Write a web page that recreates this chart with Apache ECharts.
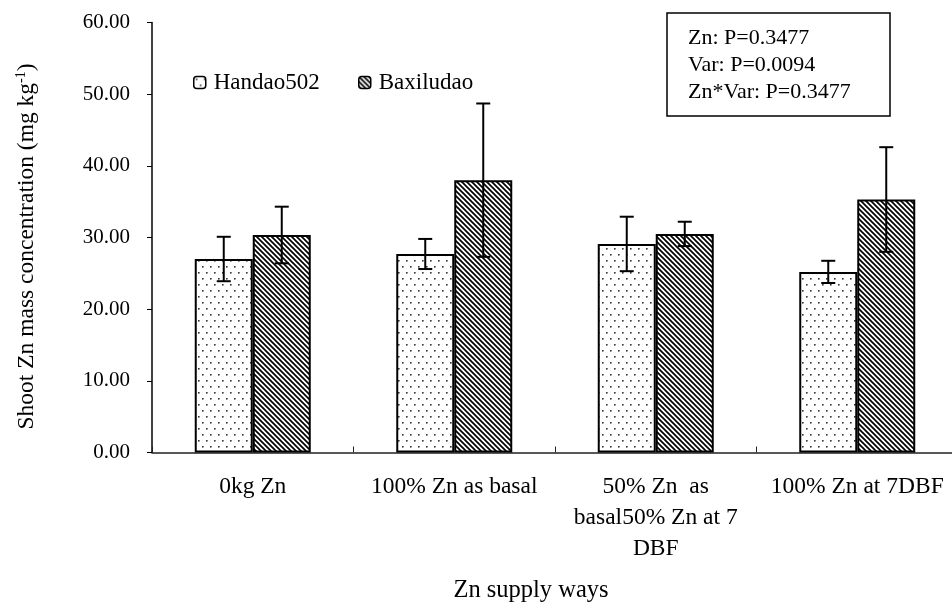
<!DOCTYPE html>
<html><head><meta charset="utf-8">
<script src="https://cdn.jsdelivr.net/npm/echarts@6/dist/echarts.min.js"></script>
<style>html,body{margin:0;padding:0;background:#fff}#c{width:952px;height:603px}</style>
</head><body><div id="c"></div>
<script>
// ---- data ----
const categories = ['0kg Zn', '100% Zn as basal', '50% Zn  as\nbasal50% Zn at 7\nDBF', '100% Zn at 7DBF'];
const seriesNames = ['Handao502', 'Baxiludao'];
const handao = [27.0, 27.7, 29.1, 25.2];
const handaoErr = [3.1, 2.1, 3.8, 1.55];
const baxiludao = [30.35, 38.0, 30.5, 35.3];
const baxiludaoErr = [3.95, 10.7, 1.7, 7.3];
const statLines = ['Zn: P=0.3477', 'Var: P=0.0094', 'Zn*Var: P=0.3477'];
const yMin = 0, yMax = 60, yStep = 10;

// ---- styling ----
const FONT = "'Liberation Serif', 'Times New Roman', serif";
const BAR_W = 58;

function dotPattern() {
  const c = document.createElement('canvas');
  c.width = 8; c.height = 12;
  const g = c.getContext('2d');
  g.fillStyle = '#fff'; g.fillRect(0, 0, 8, 12);
  g.fillStyle = '#333';
  g.fillRect(2, 2, 1.6, 1.6);
  g.fillRect(6, 8, 1.6, 1.6);
  return c;
}
function hatchPattern() {
  const s = 5;
  const c = document.createElement('canvas');
  c.width = s; c.height = s;
  const g = c.getContext('2d');
  g.fillStyle = '#fff'; g.fillRect(0, 0, s, s);
  g.strokeStyle = '#000'; g.lineWidth = 1.7;
  for (let k = -1; k <= 1; k++) {
    g.beginPath();
    g.moveTo(k * s - 1, -1);
    g.lineTo(k * s + s + 1, s + 1);
    g.stroke();
  }
  return c;
}

function errRender(offset) {
  return function (params, api) {
    const i = api.value(0), lo = api.value(1), hi = api.value(2);
    const pHi = api.coord([i, hi]);
    const pLo = api.coord([i, lo]);
    const x = pHi[0] + offset, cap = 7;
    const st = { stroke: '#000', lineWidth: 2 };
    return {
      type: 'group', children: [
        { type: 'line', shape: { x1: x, y1: pHi[1], x2: x, y2: pLo[1] }, style: st },
        { type: 'line', shape: { x1: x - cap, y1: pHi[1], x2: x + cap, y2: pHi[1] }, style: st },
        { type: 'line', shape: { x1: x - cap, y1: pLo[1], x2: x + cap, y2: pLo[1] }, style: st }
      ]
    };
  };
}

const chart = echarts.init(document.getElementById('c'), null, { renderer: 'canvas' });
const legendBase = {
  orient: 'horizontal', padding: 0, itemWidth: 12, itemHeight: 12,
  textStyle: { fontSize: 23, fontFamily: FONT, color: '#000', padding: [0, 0, 0, 3] },
  itemStyle: { borderWidth: 1.5, borderColor: '#000' }
};
chart.setOption({
  animation: false,
  backgroundColor: '#fff',
  grid: { left: 152, top: 22.5, width: 806, height: 430, outerBoundsMode: 'none', containLabel: false },
  legend: [
    Object.assign({}, legendBase, { data: [seriesNames[0]], left: 193, top: 71 }),
    Object.assign({}, legendBase, { data: [seriesNames[1]], left: 358, top: 71 })
  ],
  xAxis: {
    type: 'category', data: categories,
    name: 'Zn supply ways', nameLocation: 'middle', nameGap: 126,
    nameTextStyle: { fontSize: 24.5, fontFamily: FONT, color: '#000', padding: [0, 48, 0, 0] },
    axisLine: { lineStyle: { color: '#222', width: 1.5 } },
    axisTick: { show: true, inside: true, length: 6, alignWithLabel: false, lineStyle: { color: '#222' } },
    axisLabel: { interval: 0, margin: 19, fontSize: 23.5, lineHeight: 31, fontFamily: FONT, color: '#000' },
    splitLine: { show: false }
  },
  yAxis: {
    type: 'value', min: yMin, max: yMax, interval: yStep,
    name: 'Shoot Zn mass concentration (mg kg{sup|-1})', nameLocation: 'middle', nameGap: 112,
    nameTextStyle: {
      fontSize: 23.5, fontFamily: FONT, color: '#000', padding: [0, 18, 0, 0],
      rich: { sup: { fontSize: 14, fontFamily: FONT, color: '#000', verticalAlign: 'top', padding: [0, 0, 12, 0] } }
    },
    axisLine: { show: true, lineStyle: { color: '#000', width: 1.5 } },
    axisTick: { show: true, inside: false, length: 5, lineStyle: { color: '#000' } },
    axisLabel: { margin: 22, fontSize: 21, fontFamily: FONT, color: '#000', formatter: v => v.toFixed(2) },
    splitLine: { show: false }
  },
  graphic: [
    { type: 'rect', shape: { x: 667, y: 13, width: 223, height: 103 }, style: { fill: '#fff', stroke: '#000', lineWidth: 1.5 }, z: 10 },
    ...statLines.map((t, k) => ({
      type: 'text', x: 688, y: 38 + k * 27, z: 11,
      style: { text: t, font: '22px ' + FONT, fill: '#000', verticalAlign: 'middle', align: 'left' }
    }))
  ],
  series: [
    {
      name: seriesNames[0], type: 'bar', data: handao, barWidth: BAR_W, barGap: '0%',
      itemStyle: { color: { image: dotPattern(), repeat: 'repeat' }, borderColor: '#000', borderWidth: 2 }
    },
    {
      name: seriesNames[1], type: 'bar', data: baxiludao, barWidth: BAR_W, barGap: '0%',
      itemStyle: { color: { image: hatchPattern(), repeat: 'repeat' }, borderColor: '#000', borderWidth: 2 }
    },
    {
      type: 'custom', name: 'errH', renderItem: errRender(-BAR_W / 2), z: 5,
      data: handao.map((v, i) => [i, v - handaoErr[i], v + handaoErr[i]])
    },
    {
      type: 'custom', name: 'errB', renderItem: errRender(BAR_W / 2), z: 5,
      data: baxiludao.map((v, i) => [i, v - baxiludaoErr[i], v + baxiludaoErr[i]])
    }
  ]
});
</script></body></html>
